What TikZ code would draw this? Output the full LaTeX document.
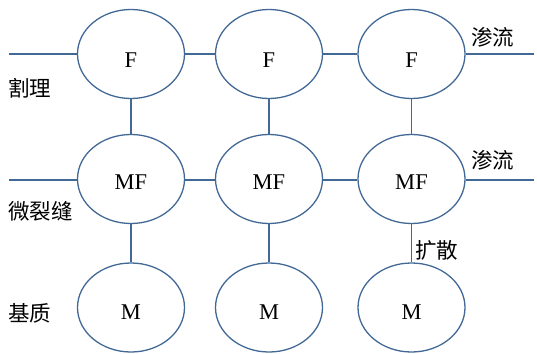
\documentclass[tikz,border=0pt]{standalone}
\usepackage{fontspec}
\setmainfont{Liberation Serif}
\newfontfamily\cjk{Noto Sans CJK SC}
\usetikzlibrary{shapes.geometric}
\definecolor{edgeblue}{RGB}{66,104,150}
\tikzset{
  pore/.style={ellipse, draw=edgeblue, line width=1.3pt, minimum width=107pt, minimum height=89pt, inner sep=0pt},
  conn/.style={draw=edgeblue, line width=1.3pt},
  lbl/.style={font=\fontsize{22.5}{22.5}\selectfont, inner sep=0pt},
  zh/.style={font=\cjk\fontsize{21.5}{21.5}\selectfont, inner sep=0pt, anchor=west}
}
\begin{document}
\begin{tikzpicture}[x=1pt,y=-1pt]
\useasboundingbox (0,0) rectangle (537,353);
% ellipses
\node[pore] (f1) at (131,54) {};
\node[pore] (f2) at (269,54) {};
\node[pore] (f3) at (411.5,54) {};
\node[pore] (mf1) at (131,179) {};
\node[pore] (mf2) at (269,179) {};
\node[pore] (mf3) at (411.5,179) {};
\node[pore] (m1) at (131,307.5) {};
\node[pore] (m2) at (269,307.5) {};
\node[pore] (m3) at (411.5,307.5) {};
% texts in ellipses
\node[lbl] (tf1) at (131,60) {F};
\node[lbl] (tf2) at (269,60) {F};
\node[lbl] (tf3) at (411.5,60) {F};
\node[lbl] (tmf1) at (131,181.7) {MF};
\node[lbl] (tmf2) at (269,181.7) {MF};
\node[lbl] (tmf3) at (411.5,181.7) {MF};
\node[lbl] (tm1) at (131,311.7) {M};
\node[lbl] (tm2) at (269,311.7) {M};
\node[lbl] (tm3) at (411.5,311.7) {M};
% free ends
\coordinate (l1) at (9,54);
\coordinate (r1) at (534,54);
\coordinate (l2) at (9,180);
\coordinate (r2) at (534,180);
% horizontal connectors
\draw[conn] (l1) -- (f1.west);
\draw[conn] (f1.east) -- (f2.west);
\draw[conn] (f2.east) -- (f3.west);
\draw[conn] (f3.east) -- (r1);
\draw[conn] (l2) -- (mf1.west |- l2);
\draw[conn] (mf1.east |- l2) -- (mf2.west |- l2);
\draw[conn] (mf2.east |- l2) -- (mf3.west |- l2);
\draw[conn] (mf3.east |- l2) -- (r2);
% vertical connectors
\draw[conn] (f1.south) -- (mf1.north);
\draw[conn] (f2.south) -- (mf2.north);
\draw[conn] (f3.south) -- (mf3.north);
\draw[conn] (mf1.south) -- (m1.north);
\draw[conn] (mf2.south) -- (m2.north);
\draw[conn] (mf3.south) -- (m3.north);
% Chinese labels
\node[zh] (geli) at (8,88) {割理};
\node[zh] (wlf) at (8,211.5) {微裂缝};
\node[zh] (jz) at (8,313) {基质};
\node[zh] (sl1) at (471,37) {渗流};
\node[zh] (sl2) at (471,160) {渗流};
\node[zh] (ks) at (415,250) {扩散};
\end{tikzpicture}
\end{document}
